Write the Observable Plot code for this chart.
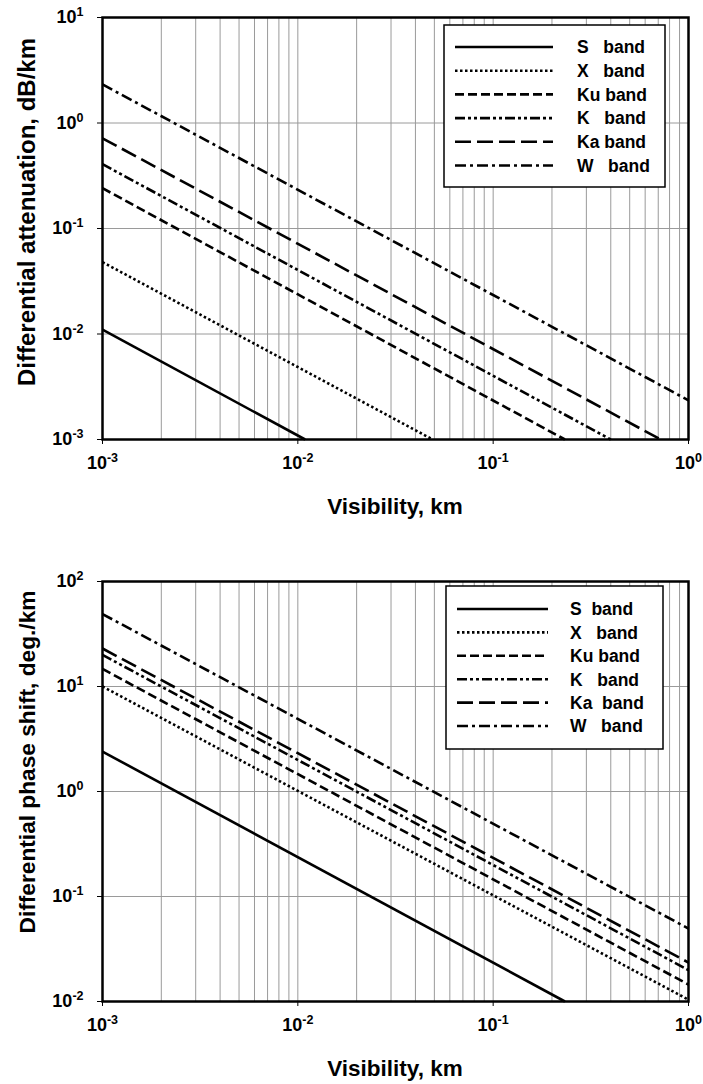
<!DOCTYPE html>
<html>
<head>
<meta charset="utf-8">
<script src="https://cdn.jsdelivr.net/npm/d3@7"></script>
<script src="https://cdn.jsdelivr.net/npm/@observablehq/plot@0.6"></script>
<style>
  html, body { margin: 0; padding: 0; background: #fff; overflow: hidden; }
  #charts > svg { display: block; }
</style>
</head>
<body>
<div id="charts"></div>
<script>
// ---------- data ----------
const bands = ["S", "X", "Ku", "K", "Ka", "W"];
const legendLabelsTop = ["S   band", "X   band", "Ku band", "K   band", "Ka band", "W   band"];
const legendLabelsBottom = ["S  band", "X   band", "Ku band", "K   band", "Ka  band", "W   band"];

// Differential attenuation (dB/km): value at V = 1e-3 km, and end point of each line
const attStartVis = [0.001, 0.001, 0.001, 0.001, 0.001, 0.001];
const attStartVal = [0.011, 0.048, 0.241, 0.407, 0.716, 2.32];
const attEndVis   = [0.0109, 0.049, 0.233, 0.40, 0.72, 1.0];
const attEndVal   = [0.001, 0.001, 0.001, 0.001, 0.001, 0.00235];

// Differential phase shift (deg./km)
const phsStartVis = [0.001, 0.001, 0.001, 0.001, 0.001, 0.001];
const phsStartVal = [2.4, 10, 14.7, 20, 23, 49];
const phsEndVis   = [0.233, 1, 1, 1, 1, 1];
const phsEndVal   = [0.01, 0.0104, 0.0145, 0.0199, 0.0235, 0.0495];

const xTicks = [1e-3, 1e-2, 1e-1, 1];
const yTicksTop = [1e-3, 1e-2, 1e-1, 1, 10];
const yTicksBottom = [1e-2, 1e-1, 1, 10, 100];

// ---------- styles ----------
const dashes = {S: null, X: "2.5,2.5", Ku: "9,4", K: "10,3,3,3,3,3", Ka: "16,6", W: "11,4,3,4"};
const font = "'Liberation Sans', Arial, Helvetica, sans-serif";
const minorX = d3.range(-3, 0).flatMap(e => d3.range(1, 10).map(m => m * Math.pow(10, e))).concat([1]);

function series(startVis, startVal, endVis, endVal) {
  return bands.map((b, i) => [
    {band: b, vis: startVis[i], val: startVal[i]},
    {band: b, vis: endVis[i], val: endVal[i]}
  ]);
}

function expFormat(d) { return "10^" + Math.round(Math.log10(d)); }

function makeChart(opts) {
  const data = series(opts.sVis, opts.sVal, opts.eVis, opts.eVal);
  const svg = Plot.plot({
    width: 703,
    height: 542,
    marginLeft: 102,
    marginRight: 15,
    marginTop: opts.mt,
    marginBottom: opts.mb,
    style: {fontFamily: font, fontSize: "18px", fontWeight: "bold", color: "black", background: "white", overflow: "visible"},
    x: {type: "log", domain: [1e-3, 1], ticks: xTicks, tickFormat: expFormat, tickSize: 5, tickPadding: 12, label: null},
    y: {type: "log", domain: opts.ydomain, ticks: opts.yTicks, tickFormat: expFormat, tickSize: 5, tickPadding: 14, label: null},
    marks: [
      Plot.ruleX(minorX, {stroke: "#9a9a9a", strokeWidth: 1}),
      Plot.ruleY(opts.yTicks, {stroke: "#9a9a9a", strokeWidth: 1}),
      ...data.map((d, i) => Plot.line(d, {
        x: "vis", y: "val",
        stroke: "black", strokeWidth: 2.6,
        strokeDasharray: dashes[bands[i]],
        strokeLinecap: "butt"
      })),
      Plot.frame({stroke: "black", strokeWidth: 2.5})
    ]
  });

  const s = d3.select(svg);
  // superscript exponents on tick labels
  s.selectAll("text").each(function() {
    const t = this.textContent;
    if (t.startsWith("10^")) {
      const e = t.slice(3);
      const sel = d3.select(this);
      sel.style("font-size", "18px").style("font-weight", "bold").style("font-family", font);
      sel.text("10");
      sel.append("tspan").attr("dy", "-0.55em").style("font-size", "12.5px").text(e);
    }
  });

  // axis titles
  s.append("text")
    .attr("x", 395).attr("y", opts.xTitleY)
    .attr("text-anchor", "middle")
    .attr("font-family", font).attr("font-size", "22.5px").attr("font-weight", "bold")
    .text("Visibility, km");
  s.append("text")
    .attr("transform", `translate(35,${opts.yTitleY}) rotate(-90)`)
    .attr("text-anchor", "middle")
    .attr("font-family", font).attr("font-size", opts.yTitleSize).attr("font-weight", "bold")
    .text(opts.yTitle);

  // legend
  const L = opts.legend;
  const g = s.append("g");
  g.append("rect")
    .attr("x", L.x0).attr("y", L.y0).attr("width", L.x1 - L.x0).attr("height", L.y1 - L.y0)
    .attr("fill", "white").attr("stroke", "black").attr("stroke-width", 1.5);
  bands.forEach((b, i) => {
    const y = L.rowY + i * L.rowStep;
    g.append("line")
      .attr("x1", L.lx0).attr("x2", L.lx1).attr("y1", y).attr("y2", y)
      .attr("stroke", "black").attr("stroke-width", 2.6)
      .attr("stroke-dasharray", dashes[b]);
    g.append("text")
      .attr("x", L.tx).attr("y", y).attr("dy", "0.36em")
      .attr("text-anchor", "start")
      .attr("xml:space", "preserve").style("white-space", "pre")
      .attr("font-family", font).attr("font-size", "17.5px").attr("font-weight", "bold")
      .text(opts.labels[i]);
  });
  return svg;
}

const chartTop = makeChart({
  sVis: attStartVis, sVal: attStartVal, eVis: attEndVis, eVal: attEndVal,
  mt: 17, mb: 103, ydomain: [1e-3, 10], yTicks: yTicksTop,
  xTitleY: 514, yTitleY: 212, yTitle: "Differential attenuation, dB/km", yTitleSize: "24px",
  labels: legendLabelsTop,
  legend: {x0: 444, x1: 665, y0: 25, y1: 187, rowY: 47, rowStep: 23.7, lx0: 455, lx1: 553, tx: 577}
});
const chartBottom = makeChart({
  sVis: phsStartVis, sVal: phsStartVal, eVis: phsEndVis, eVal: phsEndVal,
  mt: 39, mb: 83, ydomain: [1e-2, 100], yTicks: yTicksBottom,
  xTitleY: 534, yTitleY: 220, yTitle: "Differential phase shift, deg./km", yTitleSize: "22.7px",
  labels: legendLabelsBottom,
  legend: {x0: 446, x1: 663, y0: 44, y1: 207, rowY: 67, rowStep: 23.4, lx0: 457, lx1: 548, tx: 570}
});
document.getElementById("charts").append(chartTop, chartBottom);
</script>
</body>
</html>
